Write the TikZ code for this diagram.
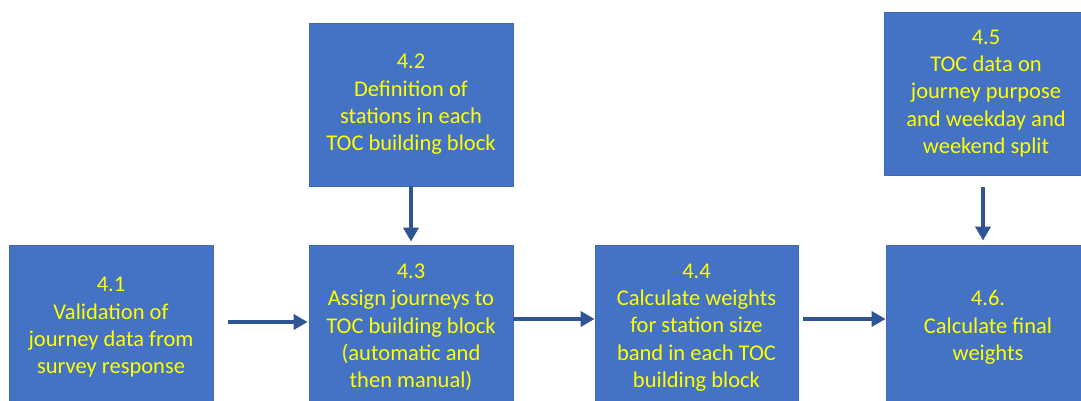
\documentclass[tikz,border=0pt]{standalone}
\usepackage{fontspec}
\setmainfont{Carlito}
\usetikzlibrary{arrows.meta}
\definecolor{boxfill}{HTML}{4472C4}
\definecolor{boxline}{HTML}{3F69B4}
\definecolor{arrowblue}{HTML}{2F5597}
\definecolor{txt}{HTML}{FFFF00}
\tikzset{
  stepbox/.style={rectangle, fill=boxfill, draw=boxline, line width=0.8pt,
    minimum width=204pt, minimum height=163pt, inner sep=0pt,
    text=txt, align=center,
    font=\fontsize{22.5pt}{27.3pt}\selectfont},
  flow/.style={draw=arrowblue, line width=3.5pt,
    -{Triangle[length=14pt,width=15pt]}}
}
\begin{document}
\begin{tikzpicture}[x=1pt,y=-1pt]
\useasboundingbox (0,0) rectangle (1081,401);
\fill[white] (0,0) rectangle (1081,401);

\node[stepbox, minimum height=165pt] (b41) at (111,327.5)
  {4.1\\Validation of\\journey data from\\survey response};
\node[stepbox] (b42) at (411,104.5)
  {4.2\\Definition of\\stations in each\\TOC building block};
\node[stepbox, minimum height=165pt] (b43) at (411,327.5)
  {4.3\\Assign journeys to\\TOC building block\\(automatic and\\then manual)};
\node[stepbox, minimum height=165pt, minimum width=203pt] (b44) at (696.5,327.5)
  {4.4\\Calculate weights\\for station size\\band in each TOC\\building block};
\node[stepbox] (b45) at (986,93.5)
  {4.5\\TOC data on\\journey purpose\\and weekday and\\weekend split};
\node[stepbox, minimum height=165pt] (b46) at (988,327.5)
  {4.6.\\Calculate final\\weights};

\draw[flow, shorten <=15pt, shorten >=1pt] ([yshift=5.5pt]b41.east) -- ([yshift=5.5pt]b43.west);
\draw[flow, shorten >=3pt] (b42.south) -- (b43.north);
\draw[flow] ([yshift=8.5pt]b43.east) -- ([yshift=8.5pt]b44.west);
\draw[flow, shorten <=5pt] ([yshift=8.5pt]b44.east) -- ([yshift=8.5pt]b46.west);
\draw[flow, shorten <=12pt, shorten >=4pt] ([xshift=-3pt]b45.south) -- ([xshift=-5pt]b46.north);
\end{tikzpicture}
\end{document}
